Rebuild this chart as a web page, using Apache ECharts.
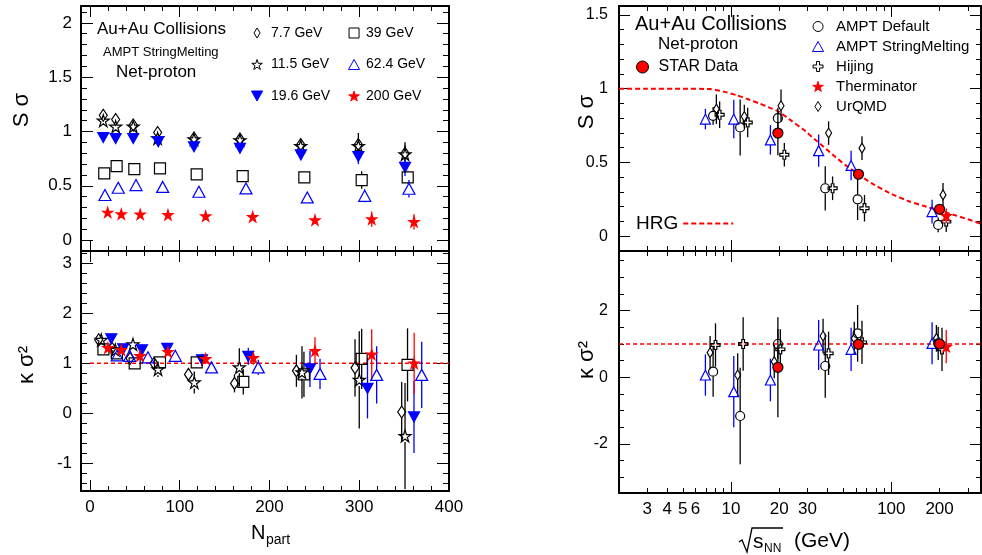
<!DOCTYPE html>
<html><head><meta charset="utf-8">
<script src="https://cdn.jsdelivr.net/npm/echarts@6/dist/echarts.min.js"></script>
<style>html,body{margin:0;padding:0;background:#fff}#c{width:982px;height:555px}</style>
</head><body><div id="c"></div>
<script>
// ---------------- DATA: left panels (vs Npart) ----------------
// S sigma (top-left)
const NP_TOP_77  = [14.8, 28.6, 48.2, 75.4, 115.9, 167.1, 234.8, 299, 351];
const SS_77      = [1.15, 1.11, 1.06, 0.99, 0.94, 0.93, 0.88, 0.88, 0.80];
const SS_77_ERR  = [0.02, 0.02, 0.02, 0.02, 0.02, 0.03, 0.04, 0.06, 0.07];
const NP_TOP_115 = [14.8, 28.6, 48.2, 75.4, 115.9, 167.1, 234.8, 299, 351];
const SS_115     = [1.10, 1.045, 1.045, 0.937, 0.928, 0.92, 0.866, 0.866, 0.79];
const SS_115_ERR = [0.02, 0.02, 0.02, 0.02, 0.03, 0.03, 0.05, 0.12, 0.11];
const NP_TOP_196 = [14.8, 28.6, 48.2, 76.1, 115.9, 167.1, 235, 299, 351];
const SS_196     = [0.945, 0.935, 0.935, 0.905, 0.86, 0.845, 0.785, 0.77, 0.67];
const SS_196_ERR = [0.01, 0.01, 0.01, 0.02, 0.02, 0.02, 0.03, 0.07, 0.08];
const NP_TOP_39  = [15.9, 29.7, 49.4, 78, 118.9, 170.1, 238.8, 302.7, 354];
const SS_39      = [0.615, 0.682, 0.654, 0.66, 0.605, 0.59, 0.578, 0.553, 0.578];
const SS_39_ERR  = [0.01, 0.01, 0.01, 0.01, 0.01, 0.02, 0.04, 0.08, 0.06];
const NP_TOP_624 = [16.7, 31.5, 51.3, 81, 121.4, 173.8, 242.1, 306.1, 355.4];
const SS_624     = [0.415, 0.482, 0.507, 0.49, 0.445, 0.476, 0.393, 0.408, 0.473];
const SS_624_ERR = [0.01, 0.01, 0.01, 0.01, 0.01, 0.02, 0.02, 0.06, 0.08];
const NP_TOP_200 = [19.7, 34.9, 56, 86.9, 128.9, 181.3, 250.7, 313.9, 361];
const SS_200     = [0.255, 0.24, 0.237, 0.233, 0.221, 0.215, 0.184, 0.194, 0.169];
const SS_200_ERR = [0.01, 0.01, 0.01, 0.01, 0.01, 0.02, 0.03, 0.07, 0.07];
// kappa sigma^2 (bottom-left)
const NP_BOT_77  = [9.7, 24.5, 44.6, 71.3, 109.7, 161, 230, 295.3, 347.3];
const KS_77      = [1.47, 1.30, 1.10, 1.00, 0.78, 0.60, 0.85, 0.91, 0.03];
const KS_77_ERR  = [0.05, 0.06, 0.08, 0.10, 0.12, 0.18, 0.32, 0.57, 0.60];
const NP_BOT_115 = [12.6, 28.2, 47.9, 75.8, 116.2, 166.4, 236.2, 300, 351];
const KS_115     = [1.47, 1.27, 1.38, 0.88, 0.62, 0.92, 0.82, 0.67, -0.45];
const KS_115_ERR = [0.06, 0.08, 0.12, 0.15, 0.22, 0.38, 0.52, 0.97, 1.06];
const NP_BOT_196 = [23.7, 37, 57.9, 86.1, 124.8, 176.4, 245.1, 309.2, 361];
const KS_196     = [1.49, 1.29, 1.27, 1.30, 1.07, 1.14, 0.89, 0.50, -0.07];
const KS_196_ERR = [0.04, 0.05, 0.06, 0.08, 0.12, 0.17, 0.36, 0.60, 0.72];
const NP_BOT_39  = [15, 30, 49.8, 78, 118.9, 170.8, 238.4, 302.7, 353.8];
const KS_39      = [1.28, 1.20, 1.00, 1.02, 1.02, 0.63, 0.78, 1.09, 0.97];
const KS_39_ERR  = [0.04, 0.05, 0.06, 0.08, 0.12, 0.25, 0.45, 0.60, 0.73];
const NP_BOT_624 = [30.4, 44.2, 64.6, 95, 135.4, 187.5, 256.3, 319.4, 369.6];
const KS_624     = [1.16, 1.15, 1.12, 1.15, 0.92, 0.92, 0.79, 0.77, 0.77];
const KS_624_ERR = [0.03, 0.04, 0.05, 0.06, 0.09, 0.15, 0.30, 0.57, 0.66];
const NP_BOT_200 = [20, 34.9, 55.7, 86.9, 128.9, 182, 250.7, 313.9, 361.2];
const KS_200     = [1.31, 1.27, 1.15, 1.23, 1.09, 1.11, 1.25, 1.18, 1.00];
const KS_200_ERR = [0.03, 0.04, 0.05, 0.06, 0.10, 0.14, 0.27, 0.50, 0.61];
const NP_REF = [0, 400];
const KS_REF_L = [1, 1];

// ---------------- DATA: right panels (vs sqrt(sNN)) ----------------
const E_DEF = [7.73, 11.4, 19.6, 38.7, 61.6, 196];
const SS_DEF = [0.816, 0.737, 0.80, 0.325, 0.25, 0.077];
const SS_DEF_ERR = [0.06, 0.19, 0.07, 0.15, 0.14, 0.05];
const KS_DEF = [0.17, -1.16, 1.0, 0.34, 1.32, 1.02];
const KS_DEF_ERR = [0.75, 1.45, 0.45, 0.95, 0.85, 0.5];
const E_SM = [6.92, 10.4, 17.6, 35.2, 56.1, 179.5];
const SS_SM = [0.794, 0.794, 0.653, 0.58, 0.48, 0.167];
const SS_SM_ERR = [0.07, 0.13, 0.10, 0.11, 0.10, 0.08];
const KS_SM = [0.07, -0.43, -0.08, 0.97, 0.84, 1.02];
const KS_SM_ERR = [0.62, 1.07, 0.64, 0.75, 0.65, 0.63];
const E_HIJ_TOP = [8.49, 12.7, 21.5, 43, 68, 220];
const SS_HIJ = [0.823, 0.771, 0.552, 0.325, 0.19, 0.099];
const SS_HIJ_ERR = [0.09, 0.10, 0.08, 0.08, 0.09, 0.07];
const E_HIJ_BOT = [8.0, 11.9, 20.3, 40.6, 65.6, 207];
const KS_HIJ = [0.97, 1.0, 0.84, 0.72, 1.05, 0.84];
const KS_HIJ_ERR = [0.65, 0.8, 0.6, 0.65, 0.65, 0.65];
const E_STAR = [19.6, 62.4, 200];
const SS_STAR = [0.699, 0.42, 0.183];
const SS_STAR_ERR = [0.15, 0.03, 0.02];
const KS_STAR = [0.30, 0.99, 1.0];
const KS_STAR_ERR = [1.5, 0.12, 0.1];
const E_THERM = [220];
const SS_THERM = [0.138];
const SS_THERM_ERR = [0.05];
const KS_THERM = [0.92];
const KS_THERM_ERR = [0.5];
const E_URQ_TOP = [8.1, 12.1, 20.5, 40.6, 65.6, 210];
const SS_URQ = [0.861, 0.811, 0.884, 0.699, 0.597, 0.28];
const SS_URQ_ERR = [0.10, 0.08, 0.11, 0.08, 0.08, 0.08];
const E_URQ_BOT = [7.4, 11.0, 18.6, 37.5, 58.7, 191];
const KS_URQ = [0.74, 0.07, 0.47, 1.24, 1.17, 1.17];
const KS_URQ_ERR = [0.5, 0.65, 0.5, 0.52, 0.5, 0.4];
const E_HRG = [2, 3, 5, 7.4, 9, 10.9, 13, 15, 17.5, 19.8, 24, 28.4, 33, 37.9, 45, 52, 61, 75, 98.6, 130, 160, 193, 250, 300, 362];
const SS_HRG = [1.0, 1.0, 1.0, 0.997, 0.98, 0.955, 0.925, 0.90, 0.87, 0.845, 0.78, 0.721, 0.66, 0.605, 0.535, 0.48, 0.427, 0.36, 0.29, 0.235, 0.205, 0.178, 0.142, 0.115, 0.085];
const E_REF = [2, 362.5];
const KS_REF_R = [1, 1];

// ---------------- TICKS / LABELS ----------------
const LX_MAJOR = [0, 100, 200, 300, 400];
const LX_MINOR = [20, 40, 60, 80, 120, 140, 160, 180, 220, 240, 260, 280, 320, 340, 360, 380];
const LT_Y_MAJOR = [0, 0.5, 1, 1.5, 2];
const LT_Y_MINOR = [0.1, 0.2, 0.3, 0.4, 0.6, 0.7, 0.8, 0.9, 1.1, 1.2, 1.3, 1.4, 1.6, 1.7, 1.8, 1.9, 2.1];
const LB_Y_MAJOR = [-1, 0, 1, 2, 3];
const LB_Y_MINOR = [-1.4, -1.2, -0.8, -0.6, -0.4, -0.2, 0.2, 0.4, 0.6, 0.8, 1.2, 1.4, 1.6, 1.8, 2.2, 2.4, 2.6, 2.8, 3.2];
const RX_MAJOR = [10, 100];
const RX_MINOR = [3, 4, 5, 6, 7, 8, 9, 20, 30, 40, 50, 60, 70, 80, 90, 200, 300];
const RX_LABELS = [3, 4, 5, 6, 10, 20, 30, 100, 200];
const RT_Y_MAJOR = [0, 0.5, 1, 1.5];
const RT_Y_MINOR = [0.1, 0.2, 0.3, 0.4, 0.6, 0.7, 0.8, 0.9, 1.1, 1.2, 1.3, 1.4];
const RB_Y_MAJOR = [-2, 0, 2];
const RB_Y_MINOR = [-3, -2.5, -1.5, -1, -0.5, 0.5, 1, 1.5, 2.5, 3, 3.5];

// ---------------- BUILD ----------------
const FONT = '"Liberation Sans", Arial, Helvetica, sans-serif';
const BLACK = '#000000', BLUE = '#0000ff', RED = '#ff0000', NONE = 'rgba(0,0,0,0)';
const SYM_DIAMOND = 'path://M4,0 L8,6.5 L4,13 L0,6.5 Z';
const SYM_STAR = 'path://M50,2 L61,36 L97,36 L68,57 L79,91 L50,70 L21,91 L32,57 L3,36 L39,36 Z';
const SYM_TDOWN = 'path://M0,0 L20,0 L10,18 Z';
const SYM_TUP = 'path://M10,0 L20,18 L0,18 Z';
const SYM_CROSS = 'path://M35,0 L65,0 L65,35 L100,35 L100,65 L65,65 L65,100 L35,100 L35,65 L0,65 L0,35 L35,35 Z';
const SYM_SQUARE = 'path://M0,0 L10,0 L10,10 L0,10 Z';

const grids = [
  {left: 81, top: 6, width: 368, height: 245},
  {left: 81, top: 251, width: 368, height: 240},
  {left: 619, top: 6, width: 362, height: 245},
  {left: 619, top: 251, width: 362, height: 242}
].map(g => Object.assign({outerBoundsMode: 'none', containLabel: false, show: false}, g));

const xAxis = [], yAxis = [];
function mkAxis(arr, grid, pos, type, min, max, ticks, len, labels, labelStyle, showLine) {
  const a = {
    gridIndex: grid, type: type, min: min, max: max, position: pos,
    axisLine: {show: showLine, onZero: false, lineStyle: {color: BLACK, width: 2}},
    axisTick: {show: true, inside: true, length: len, customValues: ticks, lineStyle: {color: BLACK, width: 1}},
    axisLabel: labels ? Object.assign({show: true, customValues: labels, color: BLACK, fontFamily: FONT}, labelStyle) : {show: false},
    splitLine: {show: false}, minorTick: {show: false}, minorSplitLine: {show: false},
    axisPointer: {show: false}
  };
  if (type === 'log') a.logBase = 10;
  arr.push(a);
  return arr.length - 1;
}
function mkGridAxes(g, xt, xmin, xmax, xMaj, xMin, xLab, xLabStyle, xLen, yMin, yMax, yMaj, yMinT, yLab, yLabStyle, yMajLen, yMinLen) {
  const xi = mkAxis(xAxis, g, 'bottom', xt, xmin, xmax, xMaj, xLen, xLab, xLabStyle, true);
  mkAxis(xAxis, g, 'bottom', xt, xmin, xmax, xMin, 5, null, null, false);
  mkAxis(xAxis, g, 'top', xt, xmin, xmax, xMaj, xLen, null, null, true);
  mkAxis(xAxis, g, 'top', xt, xmin, xmax, xMin, 5, null, null, false);
  const yi = mkAxis(yAxis, g, 'left', 'value', yMin, yMax, yMaj, yMajLen, yLab, yLabStyle, true);
  mkAxis(yAxis, g, 'left', 'value', yMin, yMax, yMinT, yMinLen, null, null, false);
  mkAxis(yAxis, g, 'right', 'value', yMin, yMax, yMaj, yMajLen, null, null, true);
  mkAxis(yAxis, g, 'right', 'value', yMin, yMax, yMinT, yMinLen, null, null, false);
  return {x: xi, y: yi};
}
const LY_LAB = {fontSize: 17, margin: 9};
const RY_LAB = {fontSize: 16, margin: 11};
const X_LAB = {fontSize: 17, margin: 8};
const A_LT = mkGridAxes(0, 'value', -10, 400, LX_MAJOR, LX_MINOR, null, null, 11, -0.1, 2.155, LT_Y_MAJOR, LT_Y_MINOR, LT_Y_MAJOR, LY_LAB, 12, 6);
const A_LB = mkGridAxes(1, 'value', -10, 400, LX_MAJOR, LX_MINOR, LX_MAJOR, X_LAB, 11, -1.55, 3.245, LB_Y_MAJOR, LB_Y_MINOR, LB_Y_MAJOR, LY_LAB, 12, 6);
const A_RT = mkGridAxes(2, 'log', 2, 362.5, RX_MAJOR, RX_MINOR, null, null, 11, -0.1, 1.56, RT_Y_MAJOR, RT_Y_MINOR, RT_Y_MAJOR, RY_LAB, 11, 5);
const A_RB = mkGridAxes(3, 'log', 2, 362.5, RX_MAJOR, RX_MINOR, RX_LABELS, X_LAB, 11, -3.47, 3.79, RB_Y_MAJOR, RB_Y_MINOR, RB_Y_MAJOR, RY_LAB, 11, 5);

const series = [];
function errRender(gap, color) {
  return function (params, api) {
    const x = api.value(0), y = api.value(1), e = api.value(2);
    const c = api.coord([x, y]);
    const t = api.coord([x, y + e]);
    const b = api.coord([x, y - e]);
    const ch = [];
    const st = {stroke: color, lineWidth: 1.3};
    if (c[1] - gap > t[1]) ch.push({type: 'line', shape: {x1: c[0], y1: t[1], x2: c[0], y2: c[1] - gap}, style: st});
    if (b[1] > c[1] + gap) ch.push({type: 'line', shape: {x1: c[0], y1: c[1] + gap, x2: c[0], y2: b[1]}, style: st});
    return {type: 'group', children: ch};
  };
}
function addPts(name, ax, xs, ys, es, sym, size, fill, stroke, errColor, gap) {
  series.push({
    type: 'custom', xAxisIndex: ax.x, yAxisIndex: ax.y, clip: true, silent: true, z: 2,
    data: xs.map((x, i) => [x, ys[i], es[i]]),
    renderItem: errRender(gap, errColor)
  });
  series.push({
    type: 'scatter', name: name, xAxisIndex: ax.x, yAxisIndex: ax.y, z: 3, silent: true,
    symbol: sym, symbolSize: size,
    itemStyle: {color: fill, borderColor: stroke, borderWidth: 1.2, opacity: 1},
    emphasis: {disabled: true},
    data: xs.map((x, i) => [x, ys[i]])
  });
}
// left top
addPts('7.7 GeV', A_LT, NP_TOP_77, SS_77, SS_77_ERR, SYM_DIAMOND, [8, 12], NONE, BLACK, BLACK, 6);
addPts('11.5 GeV', A_LT, NP_TOP_115, SS_115, SS_115_ERR, SYM_STAR, [12, 12], NONE, BLACK, BLACK, 6);
addPts('19.6 GeV', A_LT, NP_TOP_196, SS_196, SS_196_ERR, SYM_TDOWN, [11, 10], BLUE, BLUE, BLUE, 0);
addPts('39 GeV', A_LT, NP_TOP_39, SS_39, SS_39_ERR, SYM_SQUARE, [11, 11], NONE, BLACK, BLACK, 6);
addPts('62.4 GeV', A_LT, NP_TOP_624, SS_624, SS_624_ERR, SYM_TUP, [12, 11], NONE, BLUE, BLUE, 6);
addPts('200 GeV', A_LT, NP_TOP_200, SS_200, SS_200_ERR, SYM_STAR, [10, 10], RED, RED, RED, 0);
// left bottom
addPts('7.7 GeV', A_LB, NP_BOT_77, KS_77, KS_77_ERR, SYM_DIAMOND, [8, 12], NONE, BLACK, BLACK, 6);
addPts('11.5 GeV', A_LB, NP_BOT_115, KS_115, KS_115_ERR, SYM_STAR, [12, 12], NONE, BLACK, BLACK, 6);
addPts('19.6 GeV', A_LB, NP_BOT_196, KS_196, KS_196_ERR, SYM_TDOWN, [11, 10], BLUE, BLUE, BLUE, 0);
addPts('39 GeV', A_LB, NP_BOT_39, KS_39, KS_39_ERR, SYM_SQUARE, [11, 11], NONE, BLACK, BLACK, 6);
addPts('62.4 GeV', A_LB, NP_BOT_624, KS_624, KS_624_ERR, SYM_TUP, [12, 11], NONE, BLUE, BLUE, 6);
addPts('200 GeV', A_LB, NP_BOT_200, KS_200, KS_200_ERR, SYM_STAR, [10, 10], RED, RED, RED, 0);
series.push({type: 'line', xAxisIndex: A_LB.x, yAxisIndex: A_LB.y, silent: true, z: 1, symbol: 'none',
  data: NP_REF.map((x, i) => [x, KS_REF_L[i]]), lineStyle: {color: RED, width: 1.5, type: [4, 3]}});
// right top
series.push({type: 'line', name: 'HRG', xAxisIndex: A_RT.x, yAxisIndex: A_RT.y, silent: true, z: 1, symbol: 'none', smooth: 0.15,
  itemStyle: {color: RED},
  data: E_HRG.map((x, i) => [x, SS_HRG[i]]), lineStyle: {color: RED, width: 2, type: [5, 3]}});
addPts('AMPT Default', A_RT, E_DEF, SS_DEF, SS_DEF_ERR, 'circle', 9, NONE, BLACK, BLACK, 5);
addPts('AMPT StringMelting', A_RT, E_SM, SS_SM, SS_SM_ERR, SYM_TUP, [10, 10], NONE, BLUE, BLUE, 5);
addPts('Hijing', A_RT, E_HIJ_TOP, SS_HIJ, SS_HIJ_ERR, SYM_CROSS, 9, NONE, BLACK, BLACK, 5);
addPts('UrQMD', A_RT, E_URQ_TOP, SS_URQ, SS_URQ_ERR, SYM_DIAMOND, [6, 10], NONE, BLACK, BLACK, 5);
addPts('Therminator', A_RT, E_THERM, SS_THERM, SS_THERM_ERR, SYM_STAR, [10, 10], RED, RED, RED, 0);
addPts('STAR Data', A_RT, E_STAR, SS_STAR, SS_STAR_ERR, 'circle', 10, RED, BLACK, BLACK, 0);
// right bottom
series.push({type: 'line', xAxisIndex: A_RB.x, yAxisIndex: A_RB.y, silent: true, z: 1, symbol: 'none',
  data: E_REF.map((x, i) => [x, KS_REF_R[i]]), lineStyle: {color: RED, width: 1.5, type: [4, 3]}});
addPts('AMPT Default', A_RB, E_DEF, KS_DEF, KS_DEF_ERR, 'circle', 9, NONE, BLACK, BLACK, 5);
addPts('AMPT StringMelting', A_RB, E_SM, KS_SM, KS_SM_ERR, SYM_TUP, [10, 10], NONE, BLUE, BLUE, 5);
addPts('Hijing', A_RB, E_HIJ_BOT, KS_HIJ, KS_HIJ_ERR, SYM_CROSS, 9, NONE, BLACK, BLACK, 5);
addPts('UrQMD', A_RB, E_URQ_BOT, KS_URQ, KS_URQ_ERR, SYM_DIAMOND, [6, 10], NONE, BLACK, BLACK, 5);
addPts('Therminator', A_RB, E_THERM, KS_THERM, KS_THERM_ERR, SYM_STAR, [10, 10], RED, RED, RED, 0);
addPts('STAR Data', A_RB, E_STAR, KS_STAR, KS_STAR_ERR, 'circle', 10, RED, BLACK, BLACK, 0);

function lg(extra, fs) {
  return Object.assign({orient: 'vertical', padding: 0, selectedMode: false, symbolKeepAspect: true,
    itemStyle: {borderWidth: 1},
    textStyle: {fontSize: fs, fontFamily: FONT, color: BLACK}}, extra);
}
const legend = [
  lg({data: ['7.7 GeV', '11.5 GeV', '19.6 GeV'], left: 251, top: 26, itemWidth: 18, itemHeight: 10, itemGap: 17.5}, 14),
  lg({data: ['39 GeV', '62.4 GeV', '200 GeV'], left: 348, top: 26, itemWidth: 14, itemHeight: 10, itemGap: 17.5}, 14),
  lg({data: ['AMPT Default', 'AMPT StringMelting', 'Hijing', 'Therminator', 'UrQMD'], left: 812, top: 19, itemWidth: 26, itemHeight: 10, itemGap: 5}, 15),
  lg({data: ['STAR Data'], left: 636, top: 59, itemWidth: 22, itemHeight: 12}, 16),
  lg({data: ['HRG'], left: 636, top: 214, itemWidth: 50, itemHeight: 20, align: 'right', itemStyle: {opacity: 0}}, 19)
];

function txt(x, y, s, fs, extra) {
  return Object.assign({type: 'text', x: x, y: y, silent: true,
    style: {text: s, fill: BLACK, font: fs + 'px ' + FONT, fontSize: fs, fontFamily: FONT, align: 'left', verticalAlign: 'middle', textAlign: 'left', textVerticalAlign: 'middle'}}, extra || {});
}
function vtxt(x, y, s, fs) {
  const t = txt(x, y, s, fs, {rotation: Math.PI / 2});
  t.style.align = 'center'; t.style.textAlign = 'center';
  return t;
}
const graphic = [
  txt(97, 29, 'Au+Au Collisions', 17),
  txt(103, 52, 'AMPT StringMelting', 13),
  txt(116, 72, 'Net-proton', 17),
  txt(635, 24, 'Au+Au Collisions', 20),
  txt(658, 44, 'Net-proton', 17),
  vtxt(22, 110, 'S σ', 22),
  vtxt(27, 365, 'κ σ²', 22),
  vtxt(587, 112, 'S σ', 22),
  vtxt(587, 360, 'κ σ²', 22),
  txt(251, 533, 'N', 20),
  txt(266, 540, 'part', 14),
  {type: 'polyline', silent: true, shape: {points: [[739, 542], [742, 540], [747, 552], [752, 528], [783, 528]]}, style: {stroke: BLACK, lineWidth: 1.3, fill: null}},
  txt(753, 542, 's', 21),
  txt(764, 549, 'NN', 12),
  txt(794, 541, '(GeV)', 21)
];

const chart = echarts.init(document.getElementById('c'), null, {renderer: 'canvas'});
chart.setOption({
  animation: false,
  backgroundColor: '#ffffff',
  grid: grids,
  xAxis: xAxis,
  yAxis: yAxis,
  legend: legend,
  tooltip: {show: false},
  graphic: graphic,
  series: series
});
</script>
</body></html>
